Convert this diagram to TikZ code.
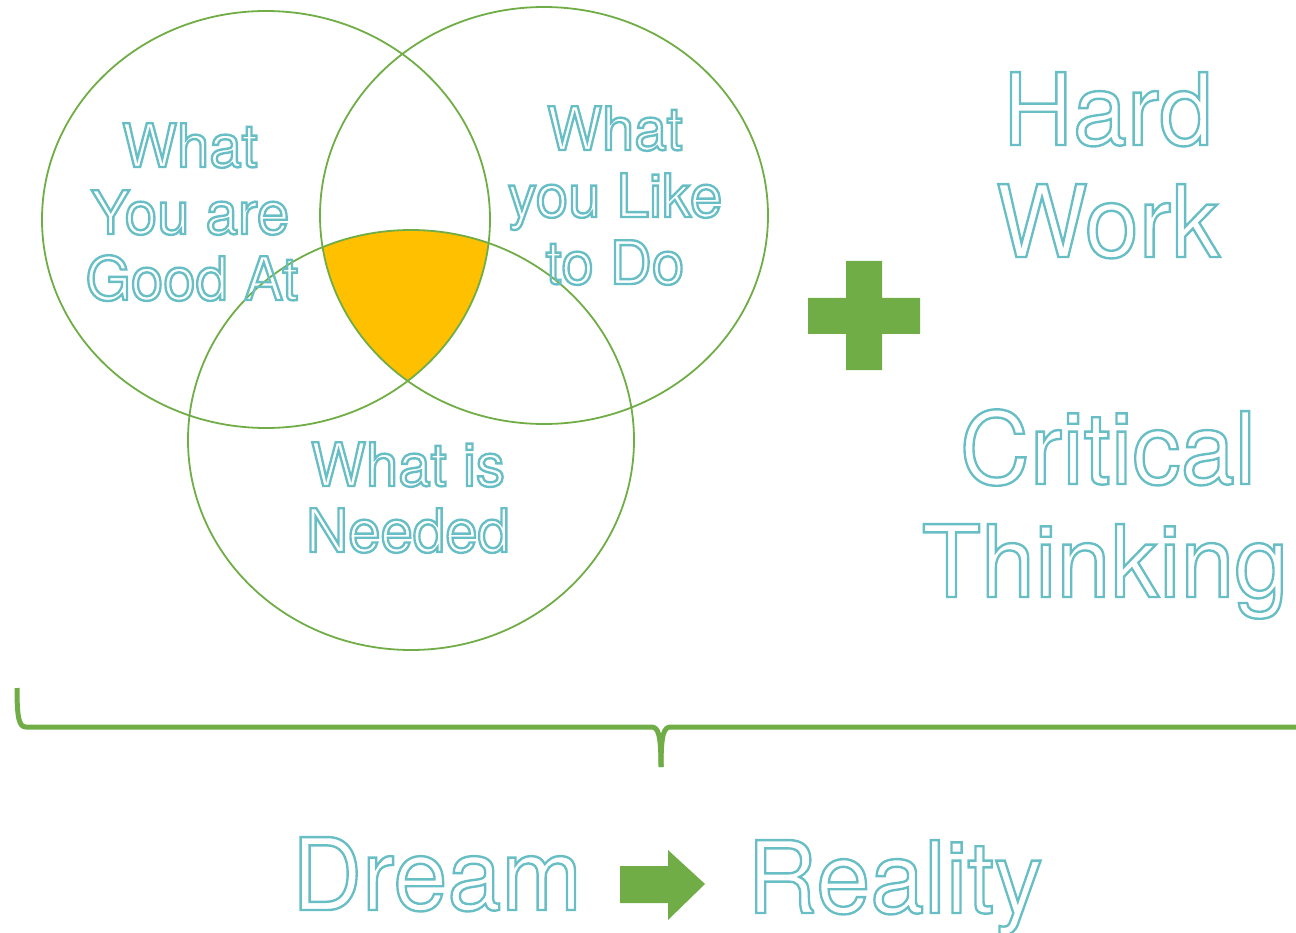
\documentclass[tikz,border=0pt]{standalone}
\usepackage{fontspec}
\setmainfont{TeX Gyre Heros}
\usetikzlibrary{shapes.arrows}
\definecolor{vgreen}{HTML}{70AD47}
\definecolor{vorange}{HTML}{FFC000}
\definecolor{vteal}{HTML}{68BEC5}
\newcommand{\outl}[1]{\special{pdf:literal 1 Tr 2.4 w}#1\special{pdf:literal 0 Tr 1 w}}
\begin{document}
\begin{tikzpicture}[x=1pt,y=-1pt,
  ring/.style={draw=vgreen,line width=1.8pt},
  small/.style={text=vteal,inner sep=0pt,anchor=base,xscale=0.97,transform shape,font=\fontsize{60}{66}\selectfont},
  big/.style={text=vteal,inner sep=0pt,anchor=base,xscale=0.97,transform shape,font=\fontsize{100}{112}\selectfont},
  brace/.style={draw=vgreen,line width=5pt}]
\useasboundingbox (0,0) rectangle (1296,933);
% intersection fill
\begin{scope}
  \clip (266,219.5) ellipse [x radius=224, y radius=208.5];
  \clip (544,215.5) ellipse [x radius=224, y radius=208.5];
  \fill[vorange] (411,440) ellipse [x radius=223, y radius=210];
\end{scope}
\draw[ring] (266,219.5) ellipse [x radius=224, y radius=208.5];
\draw[ring] (544,215.5) ellipse [x radius=224, y radius=208.5];
\draw[ring] (411,440) ellipse [x radius=223, y radius=210];
% circle texts
\node[small] (a1) at (190,167) {\outl{What}};
\node[small] (a2) at (190,234) {\outl{You are}};
\node[small] (a3) at (192,300) {\outl{Good At}};
\node[small] (b1) at (615,150) {\outl{What}};
\node[small] (b2) at (615,217) {\outl{you Like}};
\node[small] (b3) at (615,284) {\outl{to Do}};
\node[small] (c1) at (408,486) {\outl{What is}};
\node[small] (c2) at (408,552) {\outl{Needed}};
% plus
\fill[vgreen] (846,261) -- (882,261) -- (882,298) -- (920,298) -- (920,334) -- (882,334)
  -- (882,370) -- (846,370) -- (846,334) -- (808,334) -- (808,298) -- (846,298) -- cycle;
% right texts
\node[big] (h1) at (1108,145) {\outl{Hard}};
\node[big] (h2) at (1108,257) {\outl{Work}};
\node[big] (t1) at (1108,484) {\outl{Critical}};
\node[big] (t2) at (1105,597) {\outl{Thinking}};
% brace
\draw[brace] (17,688) .. controls (17,718) and (19,727) .. (26,727) -- (651,727)
  .. controls (658,727) and (661,733) .. (661,767);
\draw[brace] (661,767) .. controls (661,733) and (664,727) .. (671,727) -- (1300,727);
% bottom
\node[big] (d) at (437,910) {\outl{Dream}};
\node[big] (r) at (895,913) {\outl{Reality}};
\fill[vgreen] (620,866) -- (668,866) -- (668,850) -- (705,884) -- (668,920) -- (668,903) -- (620,903) -- cycle;
\end{tikzpicture}
\end{document}
